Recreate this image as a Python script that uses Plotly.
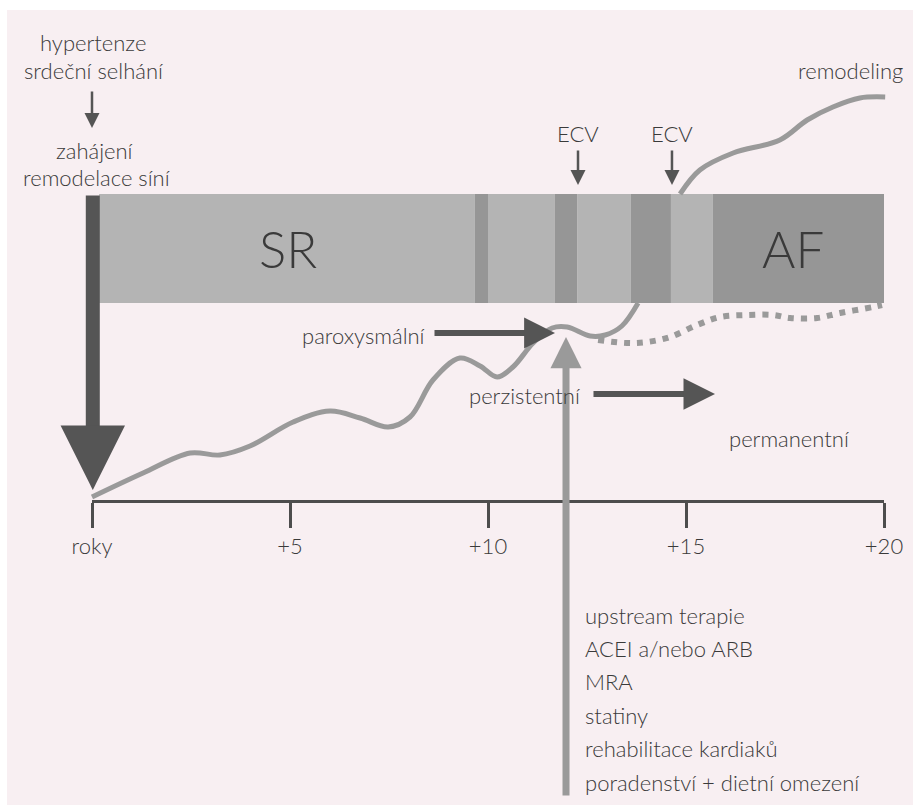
import plotly.graph_objects as go

# ---------------- data (x in years, y in arbitrary "level" units) ----------------
tick_years = [0, 5, 10, 15, 20]
tick_labels = ["roky", "+5", "+10", "+15", "+20"]

# rhythm bands (SR ... AF)
band_start = [0.18, 9.67, 10.0, 11.69, 12.25, 13.61, 14.62, 15.68]
band_end = [9.67, 10.0, 11.69, 12.25, 13.61, 14.62, 15.68, 20.0]
band_kind = ["light", "dark", "light", "dark", "light", "dark", "light", "dark"]
band_bottom = 197
band_top = 306

# remodeling curve (below the band, then continues above it)
curve_low_x = [0.0, 1.29, 2.48, 3.23, 3.99, 5.08, 6.01, 6.77, 7.48, 8.03, 8.61, 9.29,
               9.80, 10.23, 10.63, 11.14, 11.62, 12.0, 12.58, 12.96, 13.38, 13.79]
curve_low_y = [3, 27, 47, 45, 54, 78, 89, 82, 73, 83, 120, 142, 134, 123, 133, 157,
               172, 173, 164, 165, 174, 197]
curve_high_x = [14.85, 15.35, 16.19, 17.37, 18.06, 18.71, 19.39, 20.03]
curve_high_y = [306, 330, 347, 360, 380, 393, 402, 403]

# dotted branch (permanent AF)
dot_x = [12.78, 13.51, 14.02, 14.60, 15.28, 15.86, 16.54, 17.20, 17.63, 18.31, 18.89,
         19.72, 19.95]
dot_y = [160, 157, 158, 163, 175, 183, 185, 185, 182, 182, 187, 193, 195]

therapy_lines = ["upstream terapie", "ACEI a/nebo ARB", "MRA", "statiny",
                 "rehabilitace kardiaků", "poradenství + dietní omezení"]

# ---------------- styling ----------------
W, H = 919, 805
PX_PER_YEAR = 39.6
X0_PX = 92
FONT = "Lato"
FW = 300
FS = 22
TXT = "#3a3a3a"
LIGHT = "#b4b4b4"
DARK = "#969696"
CURVE = "#9a9a9a"
ARROW_DARK = "#555555"

x_range = [-X0_PX / PX_PER_YEAR, (W - X0_PX) / PX_PER_YEAR]
y_range = [-305, 500]

fig = go.Figure()

SM = 1.0
# curve pieces
fig.add_trace(go.Scatter(x=curve_low_x, y=curve_low_y, mode="lines",
                         line=dict(color=CURVE, width=5, shape="spline", smoothing=SM),
                         hoverinfo="skip"))
fig.add_trace(go.Scatter(x=curve_high_x, y=curve_high_y, mode="lines",
                         line=dict(color=CURVE, width=5, shape="spline", smoothing=SM),
                         hoverinfo="skip"))
fig.add_trace(go.Scatter(x=dot_x, y=dot_y, mode="lines",
                         line=dict(color=CURVE, width=6, shape="spline", smoothing=SM,
                                   dash="6px,7px"),
                         hoverinfo="skip"))

# bands as bars
centers = [(a + b) / 2 for a, b in zip(band_start, band_end)]
widths = [b - a for a, b in zip(band_start, band_end)]
colors = [LIGHT if k == "light" else DARK for k in band_kind]
fig.add_trace(go.Bar(x=centers, y=[band_top - band_bottom] * len(centers),
                     base=band_bottom, width=widths,
                     marker=dict(color=colors, line=dict(width=0)),
                     hoverinfo="skip"))

# invisible trace to anchor the time axis
fig.add_trace(go.Scatter(x=tick_years, y=[0] * len(tick_years), xaxis="x2", yaxis="y",
                         mode="markers", marker=dict(opacity=0), hoverinfo="skip"))

# ---------------- arrows ----------------
def arrow(x0, y0, x1, y1, color, width, size):
    fig.add_annotation(x=x1, y=y1, ax=x0, ay=y0, xref="x", yref="y", axref="x", ayref="y",
                       text="", showarrow=True, arrowhead=2, arrowsize=size,
                       arrowwidth=width, arrowcolor=color, standoff=0, startstandoff=0)

arrow(0.02, 306, 0.02, 10, ARROW_DARK, 14, 0.92)          # big start arrow
arrow(0.0, 410, 0.0, 372, ARROW_DARK, 2.5, 1.2)            # hypertension -> remodeling
arrow(12.273, 351, 12.273, 315, ARROW_DARK, 2.5, 1.2)      # ECV 1
arrow(14.646, 351, 14.646, 315, ARROW_DARK, 2.5, 1.2)      # ECV 2
arrow(8.611, 167, 11.692, 167, ARROW_DARK, 6, 1.03)        # paroxysmal
arrow(12.626, 106, 15.732, 106, ARROW_DARK, 6, 1.05)       # persistent
arrow(11.97, -297, 11.97, 163, CURVE, 7, 0.89)             # upstream therapy

# ---------------- texts ----------------
def label(x, y, s, size=FS, xanchor="center"):
    fig.add_annotation(x=x, y=y, xref="x", yref="y", text=s, showarrow=False,
                       xanchor=xanchor, yanchor="middle",
                       font=dict(family=FONT, size=size, color=TXT, weight=FW))

label(0.025, 458, "hypertenze")
label(0.05, 430, "srdeční selhání")
label(0.075, 350, "zahájení")
label(0.125, 323, "remodelace síní")
label(12.273, 367, "ECV")
label(14.646, 367, "ECV")
label(20.53, 430, "remodeling", xanchor="right")
label(4.95, 252, "SR", size=51)
label(17.7, 252, "AF", size=51)
label(8.45, 165, "paroxysmální", xanchor="right")
label(9.47, 105, "perzistentní", xanchor="left")
label(16.03, 62, "permanentní", xanchor="left")
for i, s in enumerate(therapy_lines):
    label(12.4, -115 - i * 33.4, s, xanchor="left")

# ---------------- layout ----------------
fig.update_layout(
    width=W, height=H,
    margin=dict(l=0, r=0, t=0, b=0, autoexpand=False),
    paper_bgcolor="white",
    plot_bgcolor="rgba(0,0,0,0)",
    showlegend=False,
    xaxis=dict(range=x_range, visible=False, fixedrange=True, domain=[0, 1]),
    yaxis=dict(range=y_range, visible=False, fixedrange=True, domain=[0, 1]),
    xaxis2=dict(range=[0, 20], domain=[X0_PX / W, (X0_PX + 20 * PX_PER_YEAR) / W],
                anchor="free", position=(H - 501) / H, automargin=False,
                showline=True, linecolor="#4d4d4d", linewidth=2.5,
                ticks="outside", ticklen=25, tickwidth=2.5, tickcolor="#4d4d4d",
                tickvals=tick_years, ticktext=tick_labels, showgrid=False, zeroline=False,
                tickfont=dict(family=FONT, size=FS, color=TXT, weight=FW), fixedrange=True),
    shapes=[dict(type="rect", xref="paper", yref="paper", x0=7 / W, x1=913 / W,
                 y0=0, y1=(H - 10) / H, fillcolor="#f8eff2", line=dict(width=0),
                 layer="below")],
)

fig.write_html("out.html", config={"displayModeBar": False},
               post_script="document.body.style.margin='0';document.body.style.overflow='hidden';")
